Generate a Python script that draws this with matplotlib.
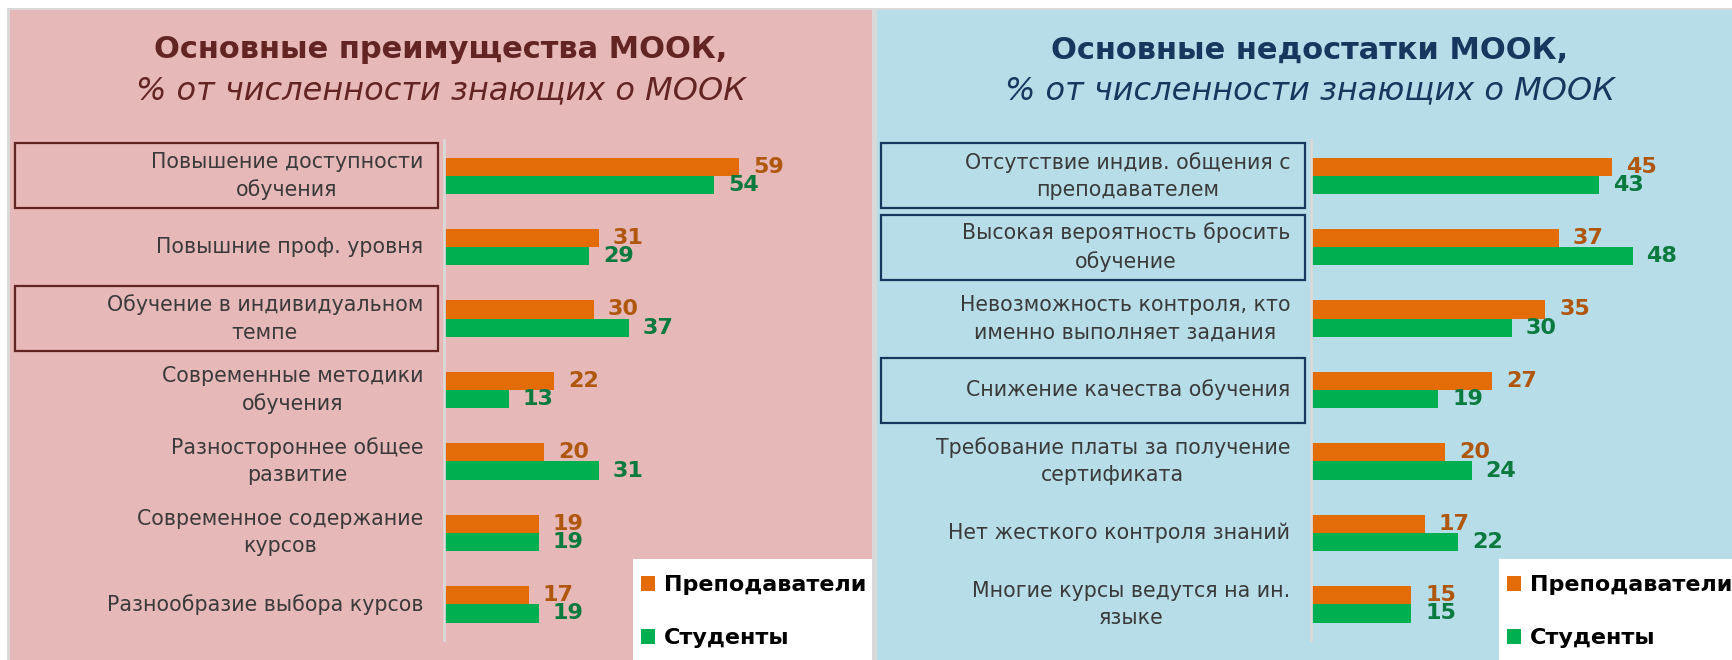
import matplotlib
matplotlib.use("Agg")
import matplotlib.pyplot as plt
import numpy as np
from matplotlib.patches import Rectangle, Patch
from matplotlib.transforms import blended_transform_factory

plt.rcParams['font.family'] = ['DejaVu Sans']

# data
pros_labels = [
    "Повышение доступности\nобучения",
    "Повышние проф. уровня",
    "Обучение в индивидуальном\nтемпе",
    "Современные методики\nобучения",
    "Разностороннее общее\nразвитие",
    "Современное содержание\nкурсов",
    "Разнообразие выбора курсов",
]
pros_teachers = [59, 31, 30, 22, 20, 19, 17]
pros_students = [54, 29, 37, 13, 31, 19, 19]
pros_boxed = [0, 2]

cons_labels = [
    "Отсутствие индив. общения с\nпреподавателем",
    "Высокая вероятность бросить\nобучение",
    "Невозможность контроля, кто\nименно выполняет задания",
    "Снижение качества обучения",
    "Требование платы за получение\nсертификата",
    "Нет жесткого контроля знаний",
    "Многие курсы ведутся на ин.\nязыке",
]
cons_teachers = [45, 37, 35, 27, 20, 17, 15]
cons_students = [43, 48, 30, 19, 24, 22, 15]
cons_boxed = [0, 1, 3]

series_names = ["Преподаватели", "Студенты"]

ORANGE = "#E36C09"
GREEN = "#00B050"
ORANGE_TXT = "#B0570F"
GREEN_TXT = "#0B7A3E"

W, H = 1733, 660
fig = plt.figure(figsize=(W / 100, H / 100), dpi=100)


def fx(x):
    return x / W


def fy(y):
    return 1 - y / H


def frect(x0, y0, x1, y1, **kw):
    # rectangle given in pixels from top-left
    r = Rectangle((fx(x0), fy(y1)), (x1 - x0) / W, (y1 - y0) / H,
                  transform=fig.transFigure, **kw)
    fig.add_artist(r)
    return r


# panel backgrounds
frect(7, 8, W, H, facecolor="#D9D9D9", edgecolor="none", zorder=0)
frect(10, 10, 872, H, facecolor="#E6B8B7", edgecolor="none", zorder=0)
frect(877, 10, W, H, facecolor="#B7DDE8", edgecolor="none", zorder=0)


def panel(ax_left, ax_right, xmax, labels, teachers, students, boxed,
          box_x, box_color, title, title_color, cx, legend_x, legend_right):
    ax = fig.add_axes([fx(ax_left), fy(640), (ax_right - ax_left) / W, 500 / H])
    ax.set_facecolor("none")
    y = np.arange(len(labels))
    h = 0.255
    ax.barh(y - h / 2, teachers, height=h, color=ORANGE, label=series_names[0])
    ax.barh(y + h / 2, students, height=h, color=GREEN, label=series_names[1])
    ax.set_xlim(0, xmax)
    ax.set_ylim(len(labels) - 0.5, -0.5)

    # value labels, offset in points to the right of the bar end
    for yi, t, s in zip(y, teachers, students):
        ax.annotate(str(t), (t, yi - h / 2), xytext=(10, 0), textcoords="offset points",
                    va="center", ha="left", fontsize=16, fontweight="bold", color=ORANGE_TXT)
        ax.annotate(str(s), (s, yi + h / 2), xytext=(10, 0), textcoords="offset points",
                    va="center", ha="left", fontsize=16, fontweight="bold", color=GREEN_TXT)

    ax.set_yticks(y)
    ax.set_yticklabels(labels, fontsize=14.8, color="#3A3A3A", va="center")
    for t in ax.get_yticklabels():
        t.set_multialignment("center")
        t.set_linespacing(1.45)
    ax.tick_params(axis="y", length=0, pad=15)
    ax.set_xticks([])
    for side in ["top", "right", "bottom"]:
        ax.spines[side].set_visible(False)
    ax.spines["left"].set_color("#D9D9D9")
    ax.spines["left"].set_linewidth(2)

    # frames round selected categories
    tr = blended_transform_factory(fig.transFigure, ax.transData)
    for i in boxed:
        r = Rectangle((fx(box_x[0]), i - 0.455), (box_x[1] - box_x[0]) / W, 0.91,
                      transform=tr, facecolor="none", edgecolor=box_color, linewidth=1.6)
        fig.add_artist(r)

    # titles
    fig.text(fx(cx), fy(50), title, ha="center", va="center", fontsize=22,
             fontweight="bold", color=title_color)
    fig.text(fx(cx), fy(91), "% от численности знающих о МООК", ha="center", va="center",
             fontsize=23, style="italic", color=title_color)

    # legend
    frect(legend_x, 559, legend_right, H, facecolor="white", edgecolor="none", zorder=1)
    handles = [Patch(facecolor=ORANGE), Patch(facecolor=GREEN)]
    fig.legend(handles, series_names, loc="upper left",
               bbox_to_anchor=(fx(legend_x + 8), fy(575)), frameon=False,
               prop={"size": 16, "weight": "bold"}, handlelength=0.65, handleheight=0.65,
               handletextpad=0.4, labelspacing=1.5, borderpad=0, borderaxespad=0)
    return ax


panel(444, 744, 60, pros_labels, pros_teachers, pros_students, pros_boxed,
      (15, 438), "#632523", "Основные преимущества МООК,", "#632523", 441, 633, 872)
panel(1311, 1646, 50, cons_labels, cons_teachers, cons_students, cons_boxed,
      (881, 1305), "#17375E", "Основные недостатки МООК,", "#17375E", 1310, 1499, W)

fig.savefig("out.png", dpi=100)
